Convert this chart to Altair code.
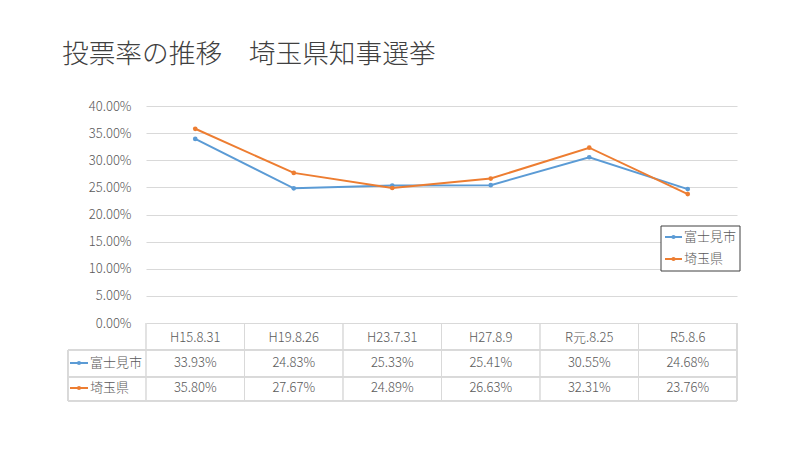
import altair as alt
import pandas as pd

FONT = "Noto Sans CJK JP"
TITLE = "投票率の推移　埼玉県知事選挙"

categories = ["H15.8.31", "H19.8.26", "H23.7.31", "H27.8.9", "R元.8.25", "R5.8.6"]
series = ["富士見市", "埼玉県"]
fujimi = [33.93, 24.83, 25.33, 25.41, 30.55, 24.68]
saitama = [35.80, 27.67, 24.89, 26.63, 32.31, 23.76]
colors = ["#5B9BD5", "#ED7D31"]
y_ticks = [0, 0.05, 0.10, 0.15, 0.20, 0.25, 0.30, 0.35, 0.40]

rows = []
for s, vals in zip(series, [fujimi, saitama]):
    for c, v in zip(categories, vals):
        rows.append({"cat": c, "series": s, "value": v / 100})
df = pd.DataFrame(rows)
cat_df = pd.DataFrame({"cat": categories})

W, H = 591, 217
TEXT_COLOR = "#595959"
LINE_COLOR = "#d9d9d9"


def xenc(**kw):
    return alt.X(
        "cat:N",
        sort=categories,
        scale=alt.Scale(type="band", domain=categories, paddingInner=0, paddingOuter=0),
        axis=alt.Axis(title=None, domain=False, ticks=False, labelPadding=8,
                      labelFontSize=13, labelColor=TEXT_COLOR, labelFont=FONT,
                      labelFontWeight=300, labelAngle=0, grid=False),
        **kw,
    )


yenc = alt.Y(
    "value:Q",
    scale=alt.Scale(domain=[0, 0.4], nice=False, zero=True),
    axis=alt.Axis(title=None, values=y_ticks, format=".2%", domain=False, ticks=False,
                  labelPadding=15, labelFontSize=13, labelColor=TEXT_COLOR,
                  labelFont=FONT, labelFontWeight=300, gridColor=LINE_COLOR, gridWidth=1),
)
color = alt.Color("series:N", scale=alt.Scale(domain=series, range=colors), legend=None)

base = alt.Chart(df)
layers = []

# table rules
hlines = [(-78, 244), (-78, 271), (-78, 295)]
for x0, yy in hlines:
    layers.append(alt.Chart(cat_df).mark_rule(color=LINE_COLOR, strokeWidth=1).encode(
        x=alt.value(x0), x2=alt.value(W), y=alt.value(yy)))
layers.append(base.mark_rule(color=LINE_COLOR, strokeWidth=1).encode(
    x=xenc(bandPosition=0), y=alt.value(H), y2=alt.value(295)))
layers.append(alt.Chart(cat_df).mark_rule(color=LINE_COLOR, strokeWidth=1).encode(
    x=alt.value(W), y=alt.value(H), y2=alt.value(295)))
layers.append(alt.Chart(cat_df).mark_rule(color=LINE_COLOR, strokeWidth=1).encode(
    x=alt.value(-78), y=alt.value(244), y2=alt.value(295)))

# lines and points
layers.append(base.mark_line(strokeWidth=2).encode(x=xenc(), y=yenc, color=color))
layers.append(base.mark_point(filled=True, size=22, opacity=1).encode(x=xenc(), y=yenc, color=color))

# table values and row labels
row_y = [257, 282]
for i, s in enumerate(series):
    sub = base.transform_filter(alt.datum.series == s)
    layers.append(sub.mark_text(fontSize=13, color=TEXT_COLOR, font=FONT, fontWeight=300).encode(
        x=xenc(), y=alt.value(row_y[i]), text=alt.Text("value:Q", format=".2%")))
    lab = alt.Chart(pd.DataFrame({"series": [s]}))
    layers.append(lab.mark_rule(strokeWidth=2, color=colors[i]).encode(
        x=alt.value(-76), x2=alt.value(-58), y=alt.value(row_y[i])))
    layers.append(lab.mark_point(filled=True, size=18, opacity=1, color=colors[i]).encode(
        x=alt.value(-67), y=alt.value(row_y[i])))
    layers.append(lab.mark_text(fontSize=13, color=TEXT_COLOR, font=FONT, fontWeight=300,
                                align="left").encode(
        x=alt.value(-56), y=alt.value(row_y[i]), text="series:N"))

# legend box
legend_box = alt.Chart(cat_df.head(1)).mark_rect(fill="white", stroke="#404040", strokeWidth=1).encode(
    x=alt.value(515), x2=alt.value(594), y=alt.value(120), y2=alt.value(165))
layers.append(legend_box)
leg_y = [131, 153]
for i, s in enumerate(series):
    lab = alt.Chart(pd.DataFrame({"series": [s]}))
    layers.append(lab.mark_rule(strokeWidth=2, color=colors[i]).encode(
        x=alt.value(519), x2=alt.value(536), y=alt.value(leg_y[i])))
    layers.append(lab.mark_point(filled=True, size=18, opacity=1, color=colors[i]).encode(
        x=alt.value(527.5), y=alt.value(leg_y[i])))
    layers.append(lab.mark_text(fontSize=13, color=TEXT_COLOR, font=FONT, fontWeight=300,
                                align="left").encode(
        x=alt.value(538), y=alt.value(leg_y[i]), text="series:N"))

# title
layers.append(alt.Chart(pd.DataFrame({"t": [TITLE]})).mark_text(
    fontSize=26.7, color="#404040", font=FONT, fontWeight=300, align="left",
    baseline="middle").encode(
    x=alt.value(-84), y=alt.value(-51), text="t:N"))

chart = alt.layer(*layers).properties(
    width=W, height=H,
    autosize=alt.AutoSizeParams(type="none"),
    padding={"left": 146, "top": 106, "right": 63, "bottom": 127},
    background="white",
).configure_view(stroke=None)

chart.save("out.html", embed_options={"renderer": "svg", "actions": False})
